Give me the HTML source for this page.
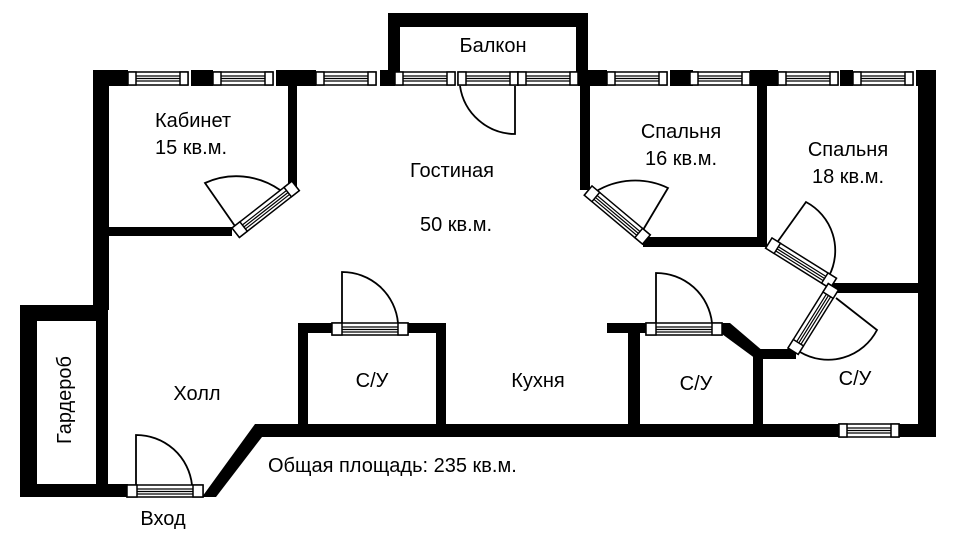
<!DOCTYPE html>
<html><head><meta charset="utf-8"><style>
html,body{margin:0;padding:0;background:#fff}
svg{display:block}
text{font-family:"Liberation Sans",sans-serif;font-size:20px;fill:#000}
</style></head><body>
<svg width="960" height="540" viewBox="0 0 960 540" xmlns="http://www.w3.org/2000/svg">
<defs>
<g id="win">
<rect x="0" y="0" width="60" height="13" fill="#fff" stroke="#000" stroke-width="1.5"/>
<rect x="0" y="0" width="8" height="13" fill="#fff" stroke="#000" stroke-width="1.5"/>
<rect x="52" y="0" width="8" height="13" fill="#fff" stroke="#000" stroke-width="1.5"/>
<line x1="8" y1="4" x2="52" y2="4" stroke="#000" stroke-width="1.2"/>
<line x1="8" y1="6.5" x2="52" y2="6.5" stroke="#000" stroke-width="1.2"/>
<line x1="8" y1="9" x2="52" y2="9" stroke="#000" stroke-width="1.2"/>
</g>
<g id="dwin">
<rect x="0" y="0" width="76" height="12" fill="#fff" stroke="#000" stroke-width="1.5"/>
<rect x="0" y="0" width="10" height="12" fill="#fff" stroke="#000" stroke-width="1.5"/>
<rect x="66" y="0" width="10" height="12" fill="#fff" stroke="#000" stroke-width="1.5"/>
<line x1="10" y1="4" x2="66" y2="4" stroke="#000" stroke-width="1.2"/>
<line x1="10" y1="6.5" x2="66" y2="6.5" stroke="#000" stroke-width="1.2"/>
<line x1="10" y1="9" x2="66" y2="9" stroke="#000" stroke-width="1.2"/>
</g>
</defs>
<g fill="#000">
<rect x="388" y="13" width="200" height="14"/>
<rect x="388" y="13" width="12" height="72"/>
<rect x="576" y="13" width="12" height="72"/>
<rect x="93" y="70" width="35" height="16"/>
<rect x="191" y="70" width="22" height="16"/>
<rect x="276" y="70" width="40" height="16"/>
<rect x="380" y="70" width="15" height="16"/>
<rect x="578" y="70" width="29" height="16"/>
<rect x="670" y="70" width="23" height="16"/>
<rect x="750" y="70" width="28" height="16"/>
<rect x="840" y="70" width="13" height="16"/>
<rect x="916" y="70" width="20" height="16"/>
<rect x="93" y="70" width="16" height="240"/>
<rect x="918" y="70" width="18" height="367"/>
<rect x="288" y="85" width="9" height="103"/>
<rect x="108" y="227" width="124" height="9"/>
<rect x="580" y="85" width="10" height="105"/>
<rect x="643" y="237" width="124" height="10"/>
<rect x="757" y="85" width="10" height="162"/>
<rect x="833" y="283" width="87" height="10"/>
<rect x="760" y="349" width="36" height="10"/>
<rect x="753" y="349" width="10" height="76"/>
<rect x="607" y="323" width="40" height="10"/>
<polygon points="720,323 730,323 764,352 756,359 722,334"/>
<rect x="628" y="328" width="12" height="97"/>
<rect x="298" y="323" width="36" height="10"/>
<rect x="408" y="323" width="38" height="10"/>
<rect x="298" y="323" width="10" height="101"/>
<rect x="436" y="323" width="10" height="101"/>
<rect x="255" y="424" width="584" height="13"/>
<rect x="899" y="424" width="37" height="13"/>
<polygon points="255,424 262,437 216,497 202,497"/>
<rect x="20" y="305" width="88" height="16"/>
<rect x="20" y="305" width="17" height="192"/>
<rect x="96" y="305" width="12" height="192"/>
<rect x="20" y="484" width="108" height="13"/>
</g>
<use href="#win" x="128" y="72"/>
<use href="#win" x="213" y="72"/>
<use href="#win" x="316" y="72"/>
<use href="#win" x="395" y="72"/>
<use href="#win" x="458" y="72"/>
<use href="#win" x="518" y="72"/>
<use href="#win" x="607" y="72"/>
<use href="#win" x="690" y="72"/>
<use href="#win" x="778" y="72"/>
<use href="#win" x="853" y="72"/>
<use href="#win" x="839" y="424"/>
<g fill="none" stroke="#000" stroke-width="1.8">
<path d="M515,86 L515,134 A56,56 0 0 1 460,86"/>
<path d="M237,229 L205,183 A76,76 0 0 1 280,190"/>
<path d="M640,235 L668,188 A76,76 0 0 0 595,192"/>
<path d="M776,244 L806,202 A55,55 0 0 1 829,276"/>
<path d="M836,298 L877,330 A55,55 0 0 1 800,352"/>
<path d="M342,323 L342,272 A56,56 0 0 1 398,323"/>
<path d="M656,323 L656,273 A56,56 0 0 1 712,323"/>
<path d="M136,485 L136,435 A56,56 0 0 1 192,485"/>
</g>
<use href="#dwin" transform="translate(232,228) rotate(-38)"/>
<use href="#dwin" transform="translate(592,186) rotate(40)"/>
<use href="#dwin" transform="translate(772,238) rotate(32)"/>
<use href="#dwin" transform="translate(788,348) rotate(-58)"/>
<use href="#dwin" transform="translate(332,323)"/>
<use href="#dwin" transform="translate(646,323)"/>
<use href="#dwin" transform="translate(127,485)"/>
<text x="493" y="52" text-anchor="middle">Балкон</text>
<text x="155" y="127">Кабинет</text>
<text x="155" y="154">15 кв.м.</text>
<text x="452" y="177" text-anchor="middle">Гостиная</text>
<text x="456" y="231" text-anchor="middle">50 кв.м.</text>
<text x="681" y="138" text-anchor="middle">Спальня</text>
<text x="681" y="165" text-anchor="middle">16 кв.м.</text>
<text x="848" y="156" text-anchor="middle">Спальня</text>
<text x="848" y="183" text-anchor="middle">18 кв.м.</text>
<text x="197" y="400" text-anchor="middle">Холл</text>
<text x="372" y="387" text-anchor="middle">С/У</text>
<text x="538" y="387" text-anchor="middle">Кухня</text>
<text x="696" y="390" text-anchor="middle">С/У</text>
<text x="855" y="385" text-anchor="middle">С/У</text>
<text x="268" y="472">Общая площадь: 235 кв.м.</text>
<text x="163" y="525" text-anchor="middle">Вход</text>
<text transform="translate(71,400) rotate(-90)" text-anchor="middle">Гардероб</text>
</svg>
</body></html>
